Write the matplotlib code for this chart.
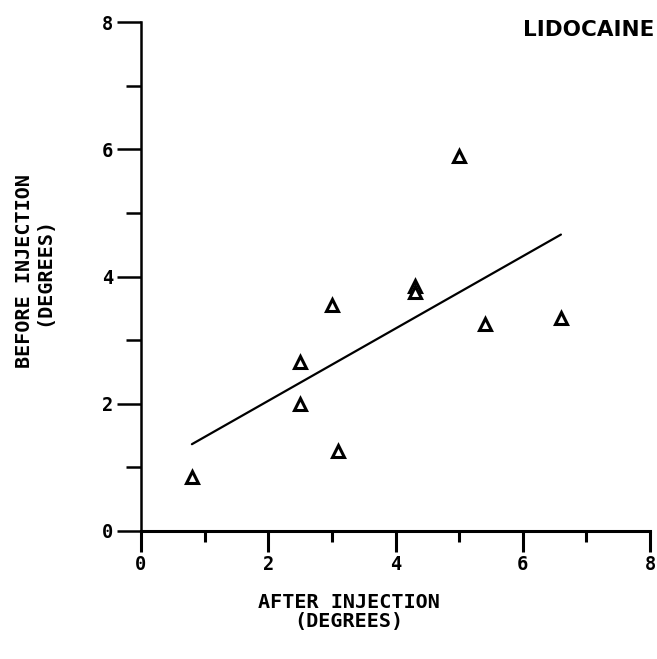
import numpy as np
import matplotlib
matplotlib.use("Agg")
import matplotlib.pyplot as plt
from matplotlib.ticker import MultipleLocator

# Data
after_injection = [0.8, 2.5, 2.5, 3.0, 3.1, 4.3, 4.3, 5.0, 5.4, 6.6]
before_injection = [0.85, 2.65, 2.0, 3.55, 1.25, 3.85, 3.75, 5.9, 3.25, 3.35]
tick_values = [0, 2, 4, 6, 8]
tick_labels = ["0", "2", "4", "6", "8"]
title_text = "LIDOCAINE"
xlabel_text = "AFTER INJECTION\n(DEGREES)"
ylabel_text = "BEFORE INJECTION\n(DEGREES)"

x = np.array(after_injection)
y = np.array(before_injection)
slope, intercept = np.polyfit(x, y, 1)
xl = np.array([x.min(), x.max()])

fig = plt.figure(figsize=(6.57, 6.59), dpi=100)
ax = fig.add_axes([141/657, 1-531/659, 509/657, 509/659])

mono = "DejaVu Sans Mono"
px = 0.72  # points per pixel at 100 dpi

ax.plot(xl, slope*xl + intercept, color="black", lw=1.6, solid_capstyle="round")
ax.plot(x, y, linestyle="none", marker="^", markersize=9, markerfacecolor="white",
        markeredgecolor="black", markeredgewidth=2.2)

ax.set_xlim(0, 8)
ax.set_ylim(0, 8)
for s in ["top", "right"]:
    ax.spines[s].set_visible(False)
ax.spines["left"].set_linewidth(1.8)
ax.spines["bottom"].set_linewidth(2.2)

ax.set_xticks(tick_values)
ax.set_xticklabels(tick_labels)
ax.set_yticks(tick_values)
ax.set_yticklabels(tick_labels)
ax.xaxis.set_minor_locator(MultipleLocator(1))
ax.yaxis.set_minor_locator(MultipleLocator(1))
ax.tick_params(axis="x", which="major", direction="out", length=21*px, width=2.2, pad=3*px)
ax.tick_params(axis="x", which="minor", direction="out", length=11*px, width=2.2)
ax.tick_params(axis="y", which="major", direction="out", length=24*px, width=1.8, pad=4*px)
ax.tick_params(axis="y", which="minor", direction="out", length=15*px, width=1.8)
for lab in ax.get_xticklabels() + ax.get_yticklabels():
    lab.set_fontfamily(mono)
    lab.set_fontweight("bold")
    lab.set_fontsize(13.5)

fig.text(654/657, 1-30/659, title_text, ha="right", va="center",
         fontsize=15.5, fontweight="bold", family="DejaVu Sans")

ax.set_xlabel(xlabel_text, fontsize=14.5, fontweight="bold", family=mono,
              ha="center", va="top", linespacing=1.0)
ax.xaxis.set_label_coords((349-141)/509, (531-593)/509)
ax.set_ylabel(ylabel_text, fontsize=14.5, fontweight="bold", family=mono,
              ha="center", va="bottom", linespacing=1.0)
ax.yaxis.set_label_coords((53-141)/509, 0.51)

fig.savefig("out.png", dpi=100, facecolor="white")
